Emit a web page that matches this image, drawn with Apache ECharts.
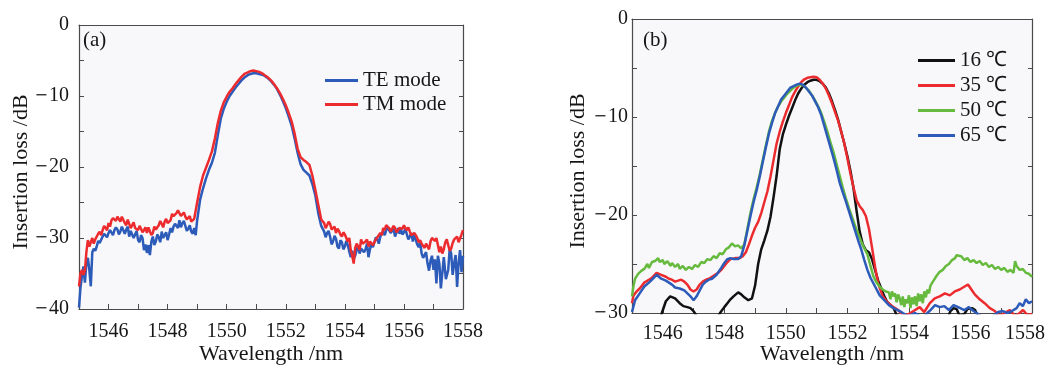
<!DOCTYPE html>
<html>
<head>
<meta charset="utf-8">
<script src="https://cdn.jsdelivr.net/npm/echarts@6/dist/echarts.min.js"></script>
<style>
html,body{margin:0;padding:0;background:#fff;}
#c{width:1049px;height:366px;}
</style>
</head>
<body>
<div id="c"></div>
<script>
// ---------- Panel (a): wavelength [nm], insertion loss [dB] ----------
const teMode = [
[1545.0,-39.8],[1545.1,-35.4],[1545.2,-36.3],[1545.3,-32.8],[1545.4,-36.8],[1545.5,-31.5],[1545.6,-31.2],[1545.7,-30.7],[1545.8,-29.8],[1545.9,-29.6],
[1546.0,-29.3],[1546.1,-29.1],[1546.2,-28.9],[1546.3,-28.8],[1546.4,-29.1],[1546.5,-28.6],[1546.6,-28.8],[1546.7,-29.8],[1546.8,-29.2],[1546.9,-29.5],
[1547.0,-30.3],[1547.1,-29.6],[1547.2,-31.7],[1547.3,-32.1],[1547.4,-32.4],[1547.5,-29.8],[1547.6,-30.5],[1547.7,-29.9],[1547.8,-29.1],[1547.9,-29.6],
[1548.0,-30.3],[1548.1,-28.6],[1548.2,-28.4],[1548.3,-28.2],[1548.4,-27.5],[1548.5,-27.9],[1548.6,-28.3],[1548.7,-28.7],[1548.8,-29.1],[1548.9,-28.6],
[1548.95,-29.6],[1549.0,-27.5],[1549.1,-24.6],[1549.2,-23.0],[1549.3,-21.6],[1549.4,-20.4],[1549.5,-19.4],[1549.6,-18.0],[1549.7,-15.5],[1549.8,-13.2],
[1549.9,-11.8],[1550.0,-10.8],[1550.1,-10.0],[1550.2,-9.4],[1550.3,-8.8],[1550.4,-8.3],[1550.5,-7.8],[1550.6,-7.4],[1550.7,-7.1],[1550.8,-6.9],
[1550.9,-6.8],[1551.0,-6.8],[1551.1,-6.9],[1551.2,-7.0],[1551.3,-7.2],[1551.4,-7.5],[1551.5,-7.9],[1551.6,-8.4],[1551.7,-9.0],[1551.8,-9.8],
[1551.9,-10.7],[1552.0,-11.7],[1552.1,-12.9],[1552.2,-14.2],[1552.3,-16.0],[1552.4,-18.0],[1552.5,-19.6],[1552.6,-20.4],[1552.7,-20.8],[1552.8,-21.2],
[1552.9,-22.4],[1553.0,-24.0],[1553.1,-26.5],[1553.2,-28.3],[1553.3,-29.1],[1553.4,-29.3],[1553.5,-29.8],[1553.6,-30.5],[1553.7,-30.1],[1553.8,-31.5],
[1553.9,-30.6],[1554.0,-31.2],[1554.1,-31.0],[1554.2,-32.7],[1554.3,-32.9],[1554.4,-31.7],[1554.5,-32.2],[1554.6,-31.3],[1554.7,-31.6],[1554.8,-32.7],
[1554.9,-30.8],[1555.0,-30.6],[1555.1,-30.2],[1555.2,-29.8],[1555.3,-29.1],[1555.4,-28.9],[1555.5,-28.6],[1555.6,-29.1],[1555.7,-29.8],[1555.8,-28.6],
[1555.9,-28.8],[1556.0,-29.2],[1556.1,-29.5],[1556.2,-29.8],[1556.3,-30.5],[1556.4,-29.8],[1556.5,-31.3],[1556.6,-32.2],[1556.7,-33.0],[1556.8,-33.6],
[1556.9,-33.2],[1557.0,-34.5],[1557.1,-36.4],[1557.2,-33.6],[1557.25,-37.1],[1557.35,-32.7],[1557.5,-34.5],[1557.6,-32.2],[1557.7,-33.6],[1557.8,-36.9],
[1557.9,-31.7],[1558.0,-32.5]
];
// extra readings of the fine ripple (TE)
const teRipple = [
[1545.05,-37.0],[1545.15,-34.0],[1545.25,-33.5],[1545.35,-34.5],[1545.45,-32.0],[1545.55,-31.8],[1545.65,-30.4],[1545.75,-30.9],[1545.85,-29.4],[1545.95,-29.9],
[1546.05,-28.9],[1546.15,-29.6],[1546.25,-28.5],[1546.35,-29.5],[1546.45,-28.4],[1546.55,-29.4],[1546.65,-28.4],[1546.75,-29.0],[1546.85,-30.0],[1546.95,-29.0],
[1547.05,-30.6],[1547.15,-30.0],[1547.25,-30.9],[1547.35,-31.0],[1547.45,-30.5],[1547.55,-31.0],[1547.65,-29.5],[1547.75,-30.6],[1547.85,-30.0],[1547.95,-29.2],
[1548.05,-29.5],[1548.15,-29.2],[1548.25,-28.0],[1548.35,-28.6],[1548.45,-28.5],[1548.55,-27.6],[1548.65,-29.0],[1548.75,-28.2],[1548.85,-29.4],
[1553.35,-29.9],[1553.45,-29.0],[1553.55,-30.9],[1553.65,-29.7],[1553.75,-31.2],[1553.85,-30.3],[1553.95,-31.6],[1554.05,-30.4],[1554.15,-31.9],[1554.25,-31.8],
[1554.35,-32.5],[1554.45,-31.0],[1554.55,-31.5],[1554.65,-32.0],[1554.75,-30.8],[1554.85,-31.6],[1554.95,-31.3],[1555.05,-29.9],[1555.15,-30.8],[1555.25,-29.4],
[1555.35,-29.6],[1555.45,-28.5],[1555.55,-29.3],[1555.65,-28.7],[1555.75,-29.2],[1555.85,-29.4],[1555.95,-29.5],[1556.05,-28.7],[1556.15,-30.2],[1556.25,-29.3],
[1556.35,-29.6],[1556.45,-30.9],[1556.55,-30.6],[1556.65,-32.8],[1556.75,-32.0],[1556.85,-34.6],[1556.95,-32.5],[1557.05,-33.0],[1557.15,-32.5],[1557.42,-35.8],
[1557.55,-31.5],[1557.65,-35.2],[1557.75,-32.4],[1557.85,-33.5],[1557.95,-34.8]
];
const tmMode = [
[1545.0,-36.8],[1545.1,-34.5],[1545.2,-34.6],[1545.3,-30.3],[1545.4,-30.6],[1545.5,-30.8],[1545.6,-30.0],[1545.7,-29.1],[1545.8,-28.9],[1545.9,-28.6],
[1546.0,-27.9],[1546.1,-27.5],[1546.2,-27.0],[1546.3,-27.0],[1546.4,-27.7],[1546.5,-27.2],[1546.6,-28.2],[1546.7,-28.0],[1546.8,-28.4],[1546.9,-28.6],
[1547.0,-28.9],[1547.1,-28.7],[1547.2,-28.9],[1547.3,-29.3],[1547.4,-28.6],[1547.5,-29.3],[1547.6,-28.8],[1547.7,-28.2],[1547.8,-28.0],[1547.9,-27.7],
[1548.0,-27.9],[1548.1,-27.5],[1548.2,-26.9],[1548.3,-26.5],[1548.4,-26.3],[1548.5,-26.8],[1548.6,-27.0],[1548.7,-27.2],[1548.8,-27.7],[1548.9,-27.3],
[1549.0,-25.0],[1549.1,-22.8],[1549.2,-21.2],[1549.3,-20.1],[1549.4,-19.0],[1549.5,-17.8],[1549.6,-16.0],[1549.7,-13.8],[1549.8,-12.1],[1549.9,-10.9],
[1550.0,-10.1],[1550.1,-9.4],[1550.2,-8.9],[1550.3,-8.3],[1550.4,-7.8],[1550.5,-7.3],[1550.6,-6.9],[1550.7,-6.7],[1550.8,-6.5],[1550.9,-6.4],
[1551.0,-6.5],[1551.1,-6.6],[1551.2,-6.8],[1551.3,-7.1],[1551.4,-7.4],[1551.5,-7.8],[1551.6,-8.3],[1551.7,-8.9],[1551.8,-9.6],[1551.9,-10.4],
[1552.0,-11.3],[1552.1,-12.4],[1552.2,-13.6],[1552.3,-15.3],[1552.4,-17.4],[1552.5,-18.6],[1552.6,-19.0],[1552.7,-19.3],[1552.8,-19.7],[1552.9,-21.2],
[1553.0,-23.2],[1553.1,-25.3],[1553.2,-27.4],[1553.3,-27.9],[1553.4,-28.2],[1553.5,-28.0],[1553.6,-28.9],[1553.7,-29.3],[1553.8,-29.0],[1553.9,-29.8],
[1554.0,-29.5],[1554.1,-30.5],[1554.2,-31.7],[1554.3,-33.6],[1554.4,-30.8],[1554.5,-31.7],[1554.6,-30.8],[1554.7,-30.5],[1554.8,-31.2],[1554.9,-30.4],
[1555.0,-30.8],[1555.1,-30.0],[1555.2,-29.3],[1555.3,-28.6],[1555.4,-28.2],[1555.5,-28.6],[1555.6,-28.9],[1555.7,-28.6],[1555.8,-29.0],[1555.9,-28.4],
[1556.0,-28.2],[1556.1,-28.9],[1556.2,-29.1],[1556.3,-29.8],[1556.4,-29.6],[1556.5,-30.6],[1556.6,-30.8],[1556.7,-31.4],[1556.8,-31.2],[1556.9,-30.5],
[1557.0,-29.8],[1557.1,-30.0],[1557.2,-32.0],[1557.3,-32.2],[1557.4,-30.6],[1557.5,-31.0],[1557.6,-31.5],[1557.7,-30.2],[1557.8,-29.8],[1557.9,-30.4],
[1558.0,-28.9]
];
// extra readings of the fine ripple (TM)
const tmRipple = [
[1545.05,-35.0],[1545.15,-35.2],[1545.25,-32.0],[1545.35,-31.2],[1545.45,-30.0],[1545.55,-30.2],[1545.65,-29.4],[1545.75,-29.6],[1545.85,-28.3],[1545.95,-28.9],
[1546.05,-28.4],[1546.15,-27.2],[1546.25,-27.6],[1546.35,-26.8],[1546.45,-27.0],[1546.55,-27.9],[1546.65,-27.4],[1546.75,-28.6],[1546.85,-27.8],[1546.95,-28.8],
[1547.05,-28.3],[1547.15,-29.2],[1547.25,-28.5],[1547.35,-28.5],[1547.45,-29.6],[1547.55,-28.4],[1547.65,-29.0],[1547.75,-27.6],[1547.85,-28.5],[1547.95,-27.3],
[1548.05,-28.0],[1548.15,-26.6],[1548.25,-27.1],[1548.35,-26.1],[1548.45,-26.9],[1548.55,-26.4],[1548.65,-27.4],[1548.75,-26.9],[1548.85,-27.9],
[1553.35,-28.6],[1553.45,-27.7],[1553.55,-28.8],[1553.65,-28.4],[1553.75,-28.7],[1553.85,-29.5],[1553.95,-29.2],[1554.05,-30.0],[1554.15,-30.0],[1554.25,-32.5],
[1554.35,-31.4],[1554.45,-31.2],[1554.55,-30.2],[1554.65,-31.0],[1554.75,-30.2],[1554.85,-30.5],[1554.95,-31.0],[1555.05,-30.2],[1555.15,-29.6],[1555.25,-29.6],
[1555.35,-28.9],[1555.45,-28.0],[1555.55,-29.1],[1555.65,-28.3],[1555.75,-29.2],[1555.85,-28.6],[1555.95,-28.7],[1556.05,-28.6],[1556.15,-28.5],[1556.25,-29.6],
[1556.35,-29.3],[1556.45,-30.0],[1556.55,-30.3],[1556.65,-31.0],[1556.75,-30.8],[1556.85,-31.6],[1556.95,-30.0],[1557.05,-30.4],[1557.15,-31.0],[1557.25,-31.2],
[1557.35,-31.6],[1557.45,-30.2],[1557.55,-31.8],[1557.65,-30.7],[1557.75,-30.3],[1557.85,-30.6],[1557.95,-29.5]
];

// ---------- Panel (b): temperature dependence ----------
const t16 = [
[1545.0,-31],[1545.9,-31],[1545.97,-30],[1546.1,-28.8],[1546.24,-28.3],[1546.4,-28.5],[1546.55,-29.0],[1546.67,-29.3],[1546.8,-29.4],[1546.9,-29.5],
[1547.0,-29.8],[1547.1,-30.3],[1547.2,-31],[1547.7,-31],[1547.86,-30.0],[1548.0,-29.4],[1548.1,-29.0],[1548.2,-28.6],[1548.3,-28.3],[1548.45,-27.9],
[1548.55,-28.1],[1548.65,-28.4],[1548.78,-28.7],[1548.9,-28.5],[1549.0,-27.2],[1549.1,-25.0],[1549.2,-23.5],[1549.3,-22.6],[1549.4,-21.6],[1549.5,-20.2],
[1549.6,-18.2],[1549.7,-16.0],[1549.8,-13.3],[1549.9,-11.8],[1550.0,-10.8],[1550.1,-9.9],[1550.2,-9.1],[1550.3,-8.3],[1550.4,-7.6],[1550.5,-7.1],
[1550.6,-6.7],[1550.7,-6.45],[1550.8,-6.3],[1550.9,-6.2],[1551.0,-6.2],[1551.1,-6.35],[1551.2,-6.6],[1551.3,-7.0],[1551.4,-7.6],[1551.5,-8.4],
[1551.6,-9.3],[1551.7,-10.3],[1551.8,-11.5],[1551.9,-12.7],[1552.0,-14.0],[1552.1,-15.5],[1552.2,-17.3],[1552.3,-19.6],[1552.4,-21.7],[1552.5,-23.0],
[1552.6,-23.6],[1552.7,-23.8],[1552.8,-24.5],[1552.9,-25.6],[1553.0,-26.7],[1553.1,-27.5],[1553.2,-28.3],[1553.3,-28.9],[1553.4,-29.2],[1553.5,-29.5],
[1553.6,-30.2],[1553.7,-31],[1555.2,-31],[1555.35,-29.8],[1555.45,-29.5],[1555.55,-29.6],[1555.65,-30.3],[1555.8,-30.1],[1555.9,-29.6],[1556.05,-29.5],
[1556.15,-29.7],[1556.25,-30.4],[1556.4,-31],[1558.0,-31]
];
const t35 = [
[1545.0,-29.0],[1545.05,-28.2],[1545.15,-27.8],[1545.25,-27.5],[1545.4,-26.9],[1545.55,-26.6],[1545.65,-26.4],[1545.8,-25.9],[1545.95,-26.1],[1546.1,-26.3],
[1546.2,-26.5],[1546.3,-26.6],[1546.4,-26.8],[1546.5,-26.7],[1546.6,-26.6],[1546.7,-26.8],[1546.8,-27.1],[1546.9,-27.6],[1547.0,-27.8],[1547.1,-27.6],
[1547.2,-27.1],[1547.3,-26.8],[1547.4,-26.6],[1547.5,-26.5],[1547.6,-26.3],[1547.7,-26.1],[1547.8,-25.9],[1547.9,-25.6],[1548.0,-25.2],[1548.1,-24.8],
[1548.2,-24.5],[1548.35,-24.4],[1548.5,-24.4],[1548.6,-24.2],[1548.7,-23.8],[1548.8,-23.0],[1548.9,-22.1],[1549.0,-21.3],[1549.1,-20.7],[1549.2,-19.8],
[1549.3,-18.7],[1549.4,-17.6],[1549.5,-16.1],[1549.6,-14.4],[1549.7,-12.7],[1549.8,-11.5],[1549.9,-10.5],[1550.0,-9.6],[1550.1,-8.8],[1550.2,-8.0],
[1550.3,-7.4],[1550.4,-6.9],[1550.5,-6.45],[1550.6,-6.15],[1550.7,-6.0],[1550.8,-5.95],[1550.9,-5.9],[1551.0,-5.95],[1551.1,-6.2],[1551.2,-6.6],
[1551.3,-7.1],[1551.4,-7.8],[1551.5,-8.6],[1551.6,-9.5],[1551.7,-10.4],[1551.8,-11.5],[1551.9,-12.7],[1552.0,-14.2],[1552.1,-15.8],[1552.2,-17.2],
[1552.3,-18.5],[1552.4,-19.1],[1552.5,-19.5],[1552.6,-20.1],[1552.7,-21.4],[1552.8,-23.3],[1552.9,-25.3],[1553.0,-27.0],[1553.15,-28.3],[1553.3,-28.9],
[1553.5,-29.4],[1553.65,-29.7],[1553.8,-30.2],[1554.0,-30.1],[1554.15,-29.8],[1554.35,-29.4],[1554.5,-29.9],[1554.68,-29.0],[1554.84,-28.5],[1555.0,-28.3],
[1555.17,-28.0],[1555.33,-28.2],[1555.49,-27.8],[1555.65,-27.6],[1555.81,-27.3],[1555.92,-27.1],[1556.03,-27.6],[1556.14,-28.1],[1556.3,-28.6],[1556.46,-29.0],
[1556.63,-29.5],[1556.79,-29.8],[1556.95,-30.3],[1557.1,-30.0],[1557.28,-29.7],[1557.45,-30.3],[1557.6,-30.0],[1557.71,-29.7],[1557.85,-30.2],[1558.0,-30.1]
];
const t50 = [
[1545.0,-28.3],[1545.05,-27.2],[1545.1,-26.5],[1545.2,-26.0],[1545.3,-25.7],[1545.4,-25.5],[1545.5,-25.0],[1545.55,-25.4],[1545.65,-24.8],[1545.75,-24.7],
[1545.85,-24.4],[1545.9,-24.8],[1546.0,-24.6],[1546.05,-25.0],[1546.15,-24.7],[1546.25,-25.2],[1546.3,-24.9],[1546.4,-25.3],[1546.5,-25.0],[1546.55,-25.5],
[1546.65,-25.2],[1546.75,-25.6],[1546.85,-25.3],[1546.95,-25.5],[1547.05,-25.1],[1547.15,-25.3],[1547.25,-24.8],[1547.35,-24.9],[1547.45,-24.5],[1547.55,-24.6],
[1547.65,-24.2],[1547.75,-24.4],[1547.85,-23.9],[1547.95,-24.0],[1548.05,-23.5],[1548.15,-23.3],[1548.25,-22.9],[1548.35,-23.2],[1548.45,-23.1],[1548.55,-23.4],
[1548.65,-23.0],[1548.75,-21.4],[1548.85,-19.8],[1548.95,-18.4],[1549.05,-17.2],[1549.15,-15.9],[1549.25,-14.4],[1549.35,-12.9],[1549.45,-11.5],[1549.55,-10.4],
[1549.65,-9.6],[1549.75,-8.9],[1549.85,-8.4],[1549.95,-8.0],[1550.05,-7.6],[1550.15,-7.3],[1550.25,-7.0],[1550.35,-6.8],[1550.45,-6.7],[1550.55,-6.75],
[1550.65,-7.0],[1550.75,-7.3],[1550.85,-7.8],[1550.95,-8.3],[1551.05,-8.9],[1551.15,-9.6],[1551.25,-10.5],[1551.35,-11.5],[1551.45,-12.6],[1551.55,-13.6],
[1551.65,-14.8],[1551.75,-16.0],[1551.85,-17.2],[1551.95,-18.3],[1552.05,-19.3],[1552.15,-20.2],[1552.25,-21.1],[1552.35,-21.9],[1552.45,-22.7],[1552.55,-23.4],
[1552.65,-24.0],[1552.75,-25.2],[1552.85,-26.3],[1552.95,-26.9],[1553.05,-27.3],[1553.15,-27.6],[1553.25,-27.8],[1553.35,-27.9],[1553.4,-28.6],[1553.45,-27.8],
[1553.5,-28.3],[1553.55,-28.0],[1553.6,-28.9],[1553.65,-28.1],[1553.7,-28.5],[1553.75,-29.2],[1553.8,-28.3],[1553.85,-29.4],[1553.9,-28.6],[1553.95,-29.0],
[1554.0,-28.2],[1554.05,-29.5],[1554.1,-28.4],[1554.15,-29.1],[1554.2,-28.3],[1554.25,-29.3],[1554.3,-28.0],[1554.35,-28.8],[1554.4,-28.1],[1554.45,-29.0],
[1554.5,-27.8],[1554.55,-28.4],[1554.6,-27.6],[1554.65,-28.0],[1554.7,-27.2],[1554.8,-26.7],[1554.9,-26.2],[1555.0,-25.8],[1555.1,-25.6],[1555.2,-25.2],
[1555.3,-25.0],[1555.4,-24.6],[1555.5,-24.4],[1555.55,-24.1],[1555.6,-24.3],[1555.7,-24.2],[1555.8,-24.6],[1555.9,-24.4],[1556.0,-24.8],[1556.1,-24.6],
[1556.2,-24.9],[1556.3,-24.7],[1556.4,-25.1],[1556.5,-24.9],[1556.6,-25.3],[1556.7,-25.1],[1556.8,-25.5],[1556.9,-25.3],[1557.0,-25.6],[1557.1,-25.4],
[1557.2,-25.8],[1557.3,-25.6],[1557.4,-25.9],[1557.45,-24.7],[1557.5,-25.2],[1557.6,-25.6],[1557.7,-25.5],[1557.8,-25.9],[1557.9,-26.0],[1558.0,-26.3]
];
const t65 = [
[1545.0,-29.9],[1545.1,-28.7],[1545.25,-28.0],[1545.4,-27.3],[1545.55,-26.9],[1545.65,-26.6],[1545.8,-26.1],[1545.95,-26.5],[1546.1,-26.7],[1546.2,-26.9],
[1546.3,-27.1],[1546.4,-27.4],[1546.55,-27.5],[1546.7,-27.7],[1546.8,-28.0],[1546.9,-28.3],[1547.0,-28.7],[1547.1,-28.3],[1547.2,-27.7],[1547.3,-27.1],
[1547.4,-26.8],[1547.5,-26.6],[1547.6,-26.5],[1547.75,-26.1],[1547.9,-25.4],[1548.0,-24.9],[1548.1,-24.5],[1548.2,-24.4],[1548.3,-24.5],[1548.45,-24.5],
[1548.55,-24.2],[1548.65,-23.1],[1548.75,-21.6],[1548.85,-20.1],[1548.95,-18.7],[1549.05,-17.5],[1549.15,-16.1],[1549.25,-14.6],[1549.35,-13.1],[1549.45,-11.7],
[1549.55,-10.6],[1549.65,-9.6],[1549.75,-8.9],[1549.85,-8.2],[1549.95,-7.8],[1550.05,-7.4],[1550.15,-7.0],[1550.25,-6.85],[1550.35,-6.7],[1550.45,-6.6],
[1550.55,-6.7],[1550.65,-7.0],[1550.75,-7.4],[1550.85,-7.8],[1550.95,-8.4],[1551.05,-9.0],[1551.15,-9.8],[1551.25,-10.9],[1551.35,-12.0],[1551.45,-13.1],
[1551.55,-14.2],[1551.65,-15.4],[1551.75,-16.7],[1551.85,-17.7],[1551.95,-18.6],[1552.05,-19.6],[1552.15,-20.6],[1552.25,-21.6],[1552.35,-22.6],[1552.45,-23.5],
[1552.55,-24.6],[1552.65,-25.6],[1552.75,-26.4],[1552.9,-27.3],[1553.05,-28.2],[1553.2,-28.7],[1553.35,-29.2],[1553.5,-29.5],[1553.7,-29.8],[1553.85,-30.1],
[1554.0,-30.3],[1554.2,-30.0],[1554.35,-30.3],[1554.5,-30.4],[1554.6,-30.0],[1554.7,-29.7],[1554.85,-29.2],[1555.0,-29.4],[1555.15,-29.3],[1555.3,-29.7],
[1555.45,-29.2],[1555.6,-29.4],[1555.8,-29.7],[1555.95,-29.4],[1556.1,-29.8],[1556.25,-30.1],[1556.45,-30.5],[1556.7,-30.4],[1556.9,-29.9],[1557.05,-29.8],
[1557.2,-30.0],[1557.35,-29.8],[1557.5,-29.5],[1557.6,-29.0],[1557.7,-29.3],[1557.8,-28.6],[1557.9,-29.0],[1558.0,-28.8]
];

const xTickLabels = ['1546','1548','1550','1552','1554','1556','1558'];
const namesA = ['TE mode','TM mode'];
const namesB = ['16 ℃','35 ℃','50 ℃','65 ℃'];
const panelTags = ['(a)','(b)'];

const FONT = 'Liberation Serif';
const TXT = '#161616';
const AX = '#4a4a4a';
const colA = ['#2d5bb9','#ec2b2e'];
const colB = ['#111111','#ec2b2e','#66ba3e','#2d5bb9'];

const byX = (a,b)=>a[0]-b[0];
const teAll = teMode.concat(teRipple).sort(byX);
const tmAll = tmMode.concat(tmRipple).sort(byX);

function xAx(gi, labelMargin, gap, pullLast){
  return {
    type:'value', gridIndex:gi, min:1545, max:1558, interval:1,
    axisLine:{show:true, onZero:false, lineStyle:{color:AX, width:1.2}},
    axisTick:{show:true, inside:true, length:5, lineStyle:{color:AX}},
    splitLine:{show:false},
    axisLabel:{margin:labelMargin, color:TXT, fontFamily:FONT, fontSize:20,
      formatter:v=>{
        const s = String(v);
        if (xTickLabels.indexOf(s) < 0) return '';
        return (pullLast && s === xTickLabels[xTickLabels.length-1]) ? '{r|'+s+'}' : s;
      },
      rich:{r:{fontFamily:FONT, fontSize:20, color:TXT, padding:[0,14,0,0]}}},
    name:'Wavelength /nm', nameLocation:'middle', nameGap:gap, nameMoveOverlap:false,
    nameTextStyle:{color:TXT, fontFamily:FONT, fontSize:22, lineHeight:22}
  };
}
function xTop(gi){
  return {type:'value', gridIndex:gi, position:'top', min:1545, max:1558, interval:1,
    axisLine:{show:true, onZero:false, lineStyle:{color:AX, width:1.2}},
    axisTick:{show:false}, axisLabel:{show:false}, splitLine:{show:false}};
}
function yAx(gi, mn, labelMargin, gap){
  return {
    type:'value', gridIndex:gi, min:mn, max:0, interval:5,
    axisLine:{show:true, onZero:false, lineStyle:{color:AX, width:1.2}},
    axisTick:{show:true, inside:true, length:5, lineStyle:{color:AX}},
    splitLine:{show:false},
    axisLabel:{margin:labelMargin, color:TXT, fontFamily:FONT, fontSize:20,
      formatter:v=> (v%10!==0) ? '' : (v<0 ? '{m|\u2212}'+Math.abs(v) : String(v)),
      rich:{m:{fontFamily:'DejaVu Serif', fontSize:16, color:TXT, padding:[0,1,0,0]}}},
    name:'Insertion loss /dB', nameLocation:'middle', nameGap:gap, nameRotate:90, nameMoveOverlap:false,
    nameTextStyle:{color:TXT, fontFamily:FONT, fontSize:22, padding:[0,10,0,0]}
  };
}
function yRight(gi, mn){
  return {type:'value', gridIndex:gi, position:'right', min:mn, max:0, interval:5,
    axisLine:{show:true, onZero:false, lineStyle:{color:AX, width:1.2}},
    axisTick:{show:true, inside:true, length:4, lineStyle:{color:AX}},
    axisLabel:{show:false}, splitLine:{show:false}};
}
function line(name, data, color, xi, yi){
  return {type:'line', name, data, xAxisIndex:xi, yAxisIndex:yi, symbol:'none',
    showSymbol:false, clip:true, lineStyle:{color, width:2.5}, itemStyle:{color}, animation:false};
}

const chart = echarts.init(document.getElementById('c'), null, {renderer:'canvas'});
chart.setOption({
  backgroundColor:'#ffffff',
  animation:false,
  grid:[
    {left:79, top:25, width:384, height:284, show:true, backgroundColor:'#f8f8fa', borderWidth:0,
      containLabel:false, outerBoundsMode:'none'},
    {left:632, top:19, width:400, height:294, show:true, backgroundColor:'#f8f8fa', borderWidth:0,
      containLabel:false, outerBoundsMode:'none'}
  ],
  title:[
    {text:panelTags[0], left:78, top:25, textStyle:{fontFamily:FONT, fontSize:21, fontWeight:'normal', color:TXT}},
    {text:panelTags[1], left:638, top:25, textStyle:{fontFamily:FONT, fontSize:21, fontWeight:'normal', color:TXT}}
  ],
  legend:[
    {data:namesA, left:325, top:70, padding:0, orient:'vertical', icon:'rect', itemWidth:33, itemHeight:3, itemGap:3,
      textStyle:{fontFamily:FONT, fontSize:21, color:TXT, lineHeight:20}},
    {data:namesB, left:918, top:50, padding:0, orient:'vertical', icon:'rect', itemWidth:37, itemHeight:3, itemGap:4,
      textStyle:{fontFamily:FONT, fontSize:21, color:TXT, lineHeight:20}}
  ],
  xAxis:[xAx(0,13,34,false), xAx(1,11,30,true), xTop(0), xTop(1)],
  yAxis:[yAx(0,-40,10,47), yAx(1,-30,4,43), yRight(0,-40), yRight(1,-30)],
  series:[
    line(namesA[0], teAll, colA[0], 0, 0),
    line(namesA[1], tmAll, colA[1], 0, 0),
    line(namesB[0], t16, colB[0], 1, 1),
    line(namesB[1], t35, colB[1], 1, 1),
    line(namesB[2], t50, colB[2], 1, 1),
    line(namesB[3], t65, colB[3], 1, 1)
  ]
});
</script>
</body>
</html>
